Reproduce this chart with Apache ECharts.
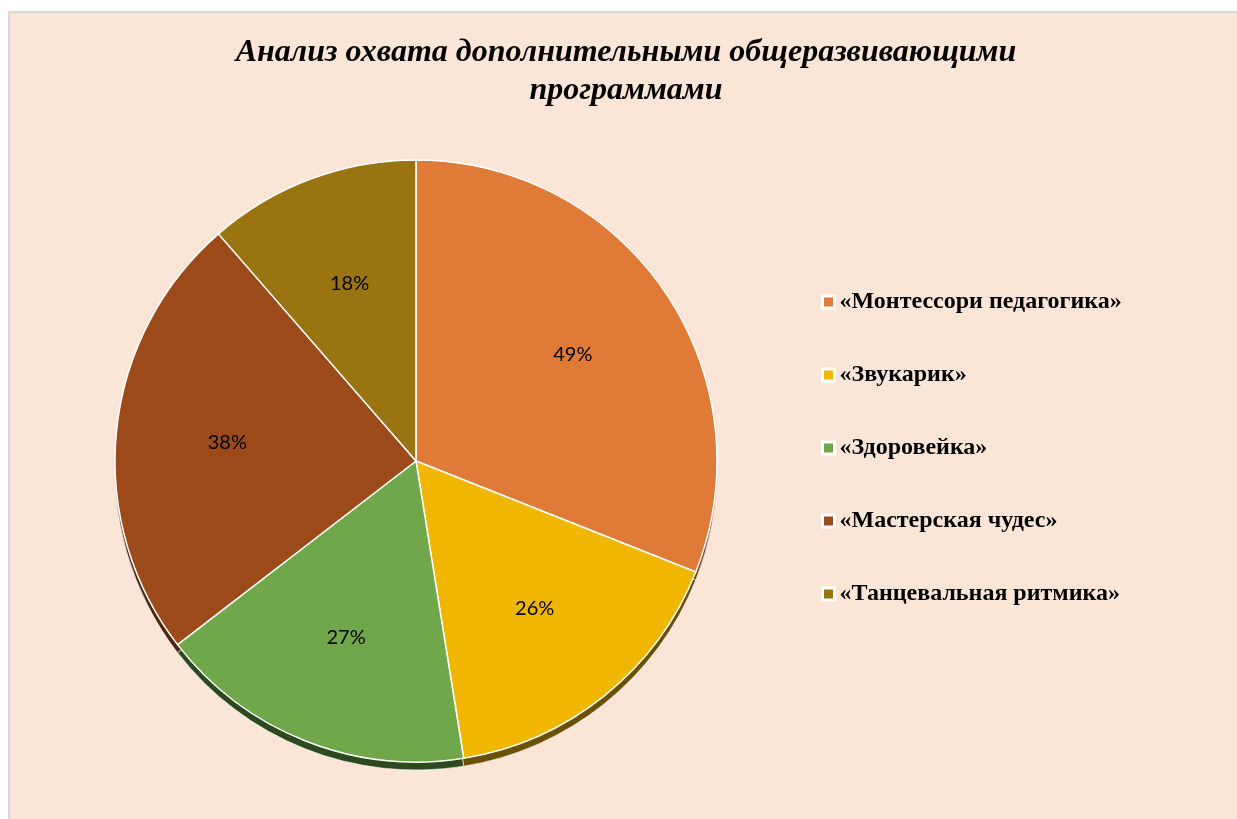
<!DOCTYPE html>
<html>
<head>
<meta charset="utf-8">
<script src="https://cdn.jsdelivr.net/npm/echarts@6/dist/echarts.min.js"></script>
<style>
	html, body { margin: 0; padding: 0; background: #fff; }
	#chart { width: 1237px; height: 819px; }
</style>
</head>
<body>
<div id="chart"></div>
<script>
// данные диаграммы
var programs = ['«Монтессори педагогика»', '«Звукарик»', '«Здоровейка»', '«Мастерская чудес»', '«Танцевальная ритмика»'];
var coverage = [49, 26, 27, 38, 18];
var sliceColors = ['#E07A37', '#F0B600', '#6FA74A', '#9C4A1A', '#9A7411'];
var edgeColors = ['#7A3E14', '#6A5000', '#2C4A1E', '#4E240C', '#4E3B08'];

function pieData(colors) {
	var arr = [];
	for(var i = 0; i < programs.length; i++) {
		arr.push({ name: programs[i], value: coverage[i], itemStyle: { color: colors ? colors[i] : 'rgba(0,0,0,0)' } });
	}
	return arr;
}

var pieCenter = [416, 461];
var pieR = 301;

var chart = echarts.init(document.getElementById('chart'));
var option = {
	backgroundColor: '#FBE5D7',
	animation: false,
	title: {
		text: 'Анализ охвата дополнительными общеразвивающими\nпрограммами',
		left: 621,
		textAlign: 'center',
		top: 29,
		textStyle: {
			fontFamily: 'Liberation Serif',
			fontStyle: 'italic',
			fontWeight: 'bold',
			fontSize: 32,
			lineHeight: 38,
			color: '#000'
		}
	},
	legend: {
		orient: 'vertical',
		left: 816,
		top: 284,
		itemWidth: 12,
		itemHeight: 12,
		itemGap: 47,
		icon: 'rect',
		itemStyle: { borderColor: '#fff', borderWidth: 3 },
		textStyle: {
			fontFamily: 'Liberation Serif',
			fontWeight: 'bold',
			fontSize: 24,
			lineHeight: 26,
			color: '#000'
		},
		data: programs
	},
	graphic: [
		{ type: 'rect', shape: { x: 0, y: 0, width: 1237, height: 11 }, style: { fill: '#fff' }, z: 100 },
		{ type: 'rect', shape: { x: 0, y: 0, width: 8, height: 819 }, style: { fill: '#fff' }, z: 100 },
		{ type: 'rect', shape: { x: 8, y: 11, width: 1229, height: 2 }, style: { fill: '#D9D9D9' }, z: 100 },
		{ type: 'rect', shape: { x: 8, y: 11, width: 2, height: 808 }, style: { fill: '#D9D9D9' }, z: 100 }
	],
	series: [{
		// основная поверхность
		name: 'Охват',
		type: 'pie',
		z: 3,
		silent: true,
		center: pieCenter,
		radius: [0, pieR],
		startAngle: 90,
		clockwise: true,
		label: { show: false },
		labelLine: { show: false },
		itemStyle: { borderColor: '#fff', borderWidth: 1.5 },
		data: pieData(sliceColors)
	}, {
		// "объёмный" край снизу
		name: 'Край',
		type: 'pie',
		z: 2,
		silent: true,
		center: [pieCenter[0], pieCenter[1] + 8],
		radius: [0, pieR],
		startAngle: 90,
		clockwise: true,
		label: { show: false },
		labelLine: { show: false },
		itemStyle: { borderColor: 'rgba(255,255,255,0.6)', borderWidth: 1 },
		data: pieData(edgeColors)
	}, {
		// подписи значений
		name: 'Подписи',
		type: 'pie',
		z: 4,
		silent: true,
		center: pieCenter,
		radius: [0, pieR * 1.24],
		startAngle: 90,
		clockwise: true,
		itemStyle: { borderWidth: 0 },
		label: {
			show: true,
			position: 'inside',
			formatter: '{c}%',
			fontFamily: 'Lato',
			fontSize: 20,
			color: '#000'
		},
		labelLine: { show: false },
		data: pieData(null)
	}]
};
chart.setOption(option);
</script>
</body>
</html>
